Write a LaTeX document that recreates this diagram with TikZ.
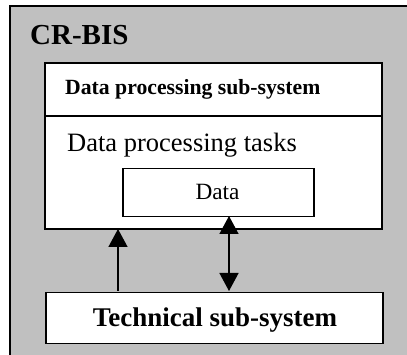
\documentclass[tikz,border=0pt]{standalone}
\usepackage{fontspec}
\setmainfont{Liberation Serif}
\usetikzlibrary{arrows.meta}
\definecolor{panelgray}{RGB}{192,192,192}
\tikzset{
  frame/.style={draw=black, line width=1.5pt},
  whitebox/.style={frame, fill=white},
  link/.style={line width=1.4pt, -{Triangle[length=18pt,width=19pt]}},
  duallink/.style={line width=1.4pt, {Triangle[length=18pt,width=19pt]}-{Triangle[length=18pt,width=19pt]}},
}
\begin{document}
\begin{tikzpicture}[x=1pt,y=-1pt]
\useasboundingbox (0,0) rectangle (407,355);
\clip (0,0) rectangle (407,355);
% outer system panel
\fill[white] (0,0) rectangle (407,355);
\draw[frame, fill=panelgray] (10,6) rectangle (420,370);
\node[anchor=base west, inner sep=0pt, font=\fontsize{29}{33}\selectfont\bfseries] (title) at (30,45) {CR-BIS};
% data processing sub-system
\draw[whitebox] (45,63) rectangle (382,229);
\draw[frame] (45,116) -- (382,116);
\node[anchor=base west, inner sep=0pt, font=\fontsize{21.7}{25}\selectfont\bfseries] (dphead) at (65,95) {Data processing sub-system};
\node[anchor=base west, inner sep=0pt, font=\fontsize{26.5}{30}\selectfont] (tasks) at (67,151.5) {Data processing tasks};
\node[whitebox, minimum width=191pt, minimum height=48pt, anchor=north west, inner sep=0pt] (data) at (122,168) {};
\node[anchor=base, inner sep=0pt, font=\fontsize{23.3}{27}\selectfont] (datalbl) at (217.5,200) {Data};
\coordinate (dpBottomLeft) at (118,229);
% technical sub-system
\node[whitebox, minimum width=337pt, minimum height=51pt, anchor=north west, inner sep=0pt] (tech) at (45,292) {};
\node[anchor=base, inner sep=0pt, font=\fontsize{27}{31}\selectfont\bfseries] (techlbl) at (215,326.5) {Technical sub-system};
% connectors
\coordinate (techA) at (118,291);
\coordinate (techB) at (229,291);
\coordinate (dataB) at (229,216);
\draw[link] (techA) -- (dpBottomLeft);
\draw[duallink] (techB) -- (dataB);
\end{tikzpicture}
\end{document}
